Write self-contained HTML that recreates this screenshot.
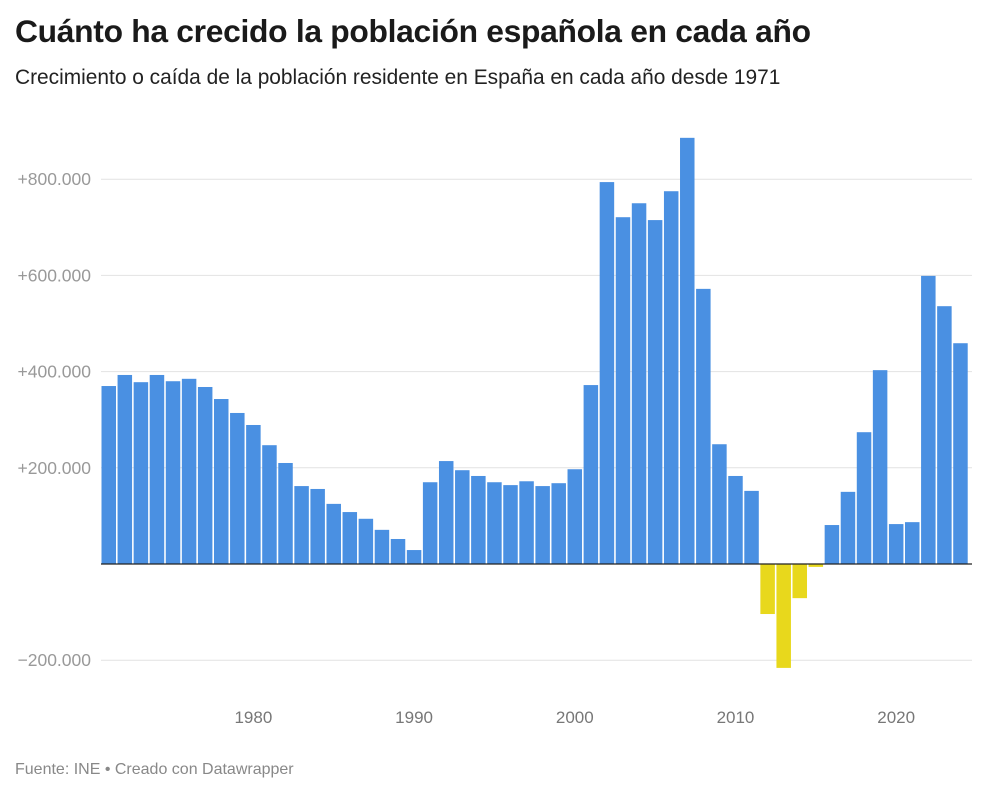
<!DOCTYPE html>
<html><head><meta charset="utf-8"><style>
body{margin:0;background:#fff;width:1000px;height:797px;overflow:hidden;font-family:"Liberation Sans",sans-serif}
h1{position:absolute;left:15px;top:13px;margin:0;font-size:31.8px;font-weight:bold;color:#1a1a1a;letter-spacing:-0.3px}
.sub{position:absolute;left:15px;top:66px;font-size:20.9px;color:#222}
.foot{position:absolute;left:15px;top:761px;font-size:16px;color:#888}
svg{position:absolute;left:0;top:0}
</style></head><body>
<h1>Cuánto ha crecido la población española en cada año</h1>
<div class="sub">Crecimiento o caída de la población residente en España en cada año desde 1971</div>
<svg id="c" width="1000" height="797"></svg>
<div class="foot">Fuente: INE • Creado con Datawrapper</div>
<script>
const years=[];for(let y=1971;y<=2024;y++)years.push(y);
const values=[370000,393000,378000,393000,380000,385000,368000,343000,314000,289000,247000,210000,162000,156000,125000,108000,94000,71000,52000,29000,170000,214000,195000,183000,170000,164000,172000,162000,168000,197000,372000,794000,721000,750000,715000,775000,886000,572000,249000,183000,152000,-104000,-216000,-71000,-6000,81000,150000,274000,403000,83000,87000,599000,536000,459000];
const yTicks=[800000,600000,400000,200000,-200000];
const yTickLabels=["+800.000","+600.000","+400.000","+200.000","−200.000"];
const xTicks=[1980,1990,2000,2010,2020];
const NS="http://www.w3.org/2000/svg",svg=document.getElementById('c');
const y=v=>564-v*96.2/200000;
const x=yr=>101.5+(yr-1971)*16.07;
function mk(t,a){const e=document.createElementNS(NS,t);for(const k in a)e.setAttribute(k,a[k]);svg.appendChild(e);return e;}
yTicks.forEach((v,i)=>{
const l=mk('line',{x1:101,x2:972,y1:y(v),y2:y(v),stroke:'#e2e2e2','stroke-width':1});


const t=mk('text',{x:91,y:y(v)+6,'text-anchor':'end','font-size':17.5,fill:'#999','font-family':'Liberation Sans, sans-serif'});
t.textContent=yTickLabels[i];


});
years.forEach((yr,i)=>{
const v=values[i];
const r=mk('rect',{x:x(yr),width:14.5,y:Math.min(y(v),y(0)),height:Math.abs(y(v)-y(0)),fill:v>=0?'#4a90e2':'#e8d81c'});


});
const z=mk('line',{x1:101,x2:972,y1:y(0),y2:y(0),stroke:'#222','stroke-width':1.3});


xTicks.forEach(yr=>{
const t=mk('text',{x:x(yr)+7.25,y:723,'text-anchor':'middle','font-size':17,fill:'#777','font-family':'Liberation Sans, sans-serif'});
t.textContent=yr;


});
</script>
</body></html>
